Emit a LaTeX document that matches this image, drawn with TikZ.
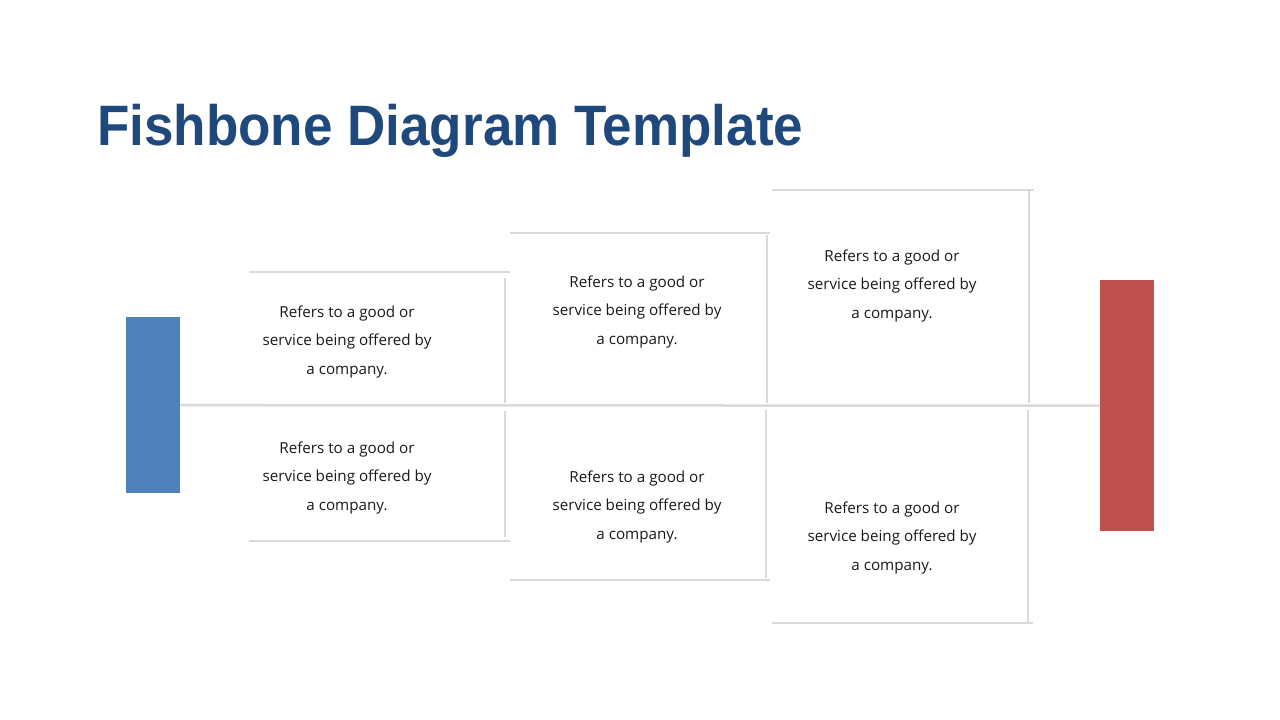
\documentclass[tikz,border=0pt]{standalone}
\usepackage{fontspec}
\setmainfont{Open Sans}
\newfontfamily\titlefont[FakeStretch=0.93]{Liberation Sans}
\definecolor{titleblue}{RGB}{31,73,125}
\definecolor{headblue}{RGB}{79,129,189}
\definecolor{tailred}{RGB}{192,80,77}
\definecolor{bonegray}{RGB}{217,217,217}
\begin{document}
\begin{tikzpicture}[x=1pt,y=-1pt,
  bonestyle/.style={draw=bonegray,line width=2.5pt},
  txt/.style={align=center,font=\fontsize{15.2}{28.5}\selectfont,text=black!90,inner sep=0pt},
  blockstyle/.style={inner sep=0pt,anchor=north west}]
\useasboundingbox (0,0) rectangle (1280,720);
\node[anchor=base west,font=\titlefont\bfseries\fontsize{57}{60}\selectfont,text=titleblue,inner sep=0pt] (title) at (97,145) {Fishbone Diagram Template};
\node[blockstyle,fill=headblue,minimum width=54pt,minimum height=176pt] (head) at (126,317) {};
\node[blockstyle,fill=tailred,minimum width=54pt,minimum height=251pt] (tail) at (1100,280) {};
\draw[bonestyle] (head.east) -- (tail.west);
% bone coordinates
\coordinate (a1) at (249,272); \coordinate (a2) at (510,272); \coordinate (a3) at (505,278); \coordinate (a4) at (505,403);
\coordinate (b1) at (249,541); \coordinate (b2) at (510,541); \coordinate (b3) at (505,537); \coordinate (b4) at (505,411);
\coordinate (c1) at (510,233); \coordinate (c2) at (770,233); \coordinate (c3) at (767,235); \coordinate (c4) at (767,403);
\coordinate (d1) at (510,580); \coordinate (d2) at (770,580); \coordinate (d3) at (766,578); \coordinate (d4) at (766,410);
\coordinate (e1) at (772,190); \coordinate (e2) at (1034,190); \coordinate (e3) at (1029,190); \coordinate (e4) at (1029,403);
\coordinate (f1) at (772,623); \coordinate (f2) at (1033,623); \coordinate (f3) at (1028,622); \coordinate (f4) at (1028,410);
\foreach \p in {a,b,c,d,e,f}{
  \draw[bonestyle] (\p1) -- (\p2);
  \draw[bonestyle] (\p3) -- (\p4);
}
\node[txt] (t1) at (347,342) {Refers to a good or\\service being offered by\\a company.};
\node[txt] (t2) at (347,478) {Refers to a good or\\service being offered by\\a company.};
\node[txt] (t3) at (637,312) {Refers to a good or\\service being offered by\\a company.};
\node[txt] (t4) at (637,507) {Refers to a good or\\service being offered by\\a company.};
\node[txt] (t5) at (892,286) {Refers to a good or\\service being offered by\\a company.};
\node[txt] (t6) at (892,538) {Refers to a good or\\service being offered by\\a company.};
\end{tikzpicture}
\end{document}
